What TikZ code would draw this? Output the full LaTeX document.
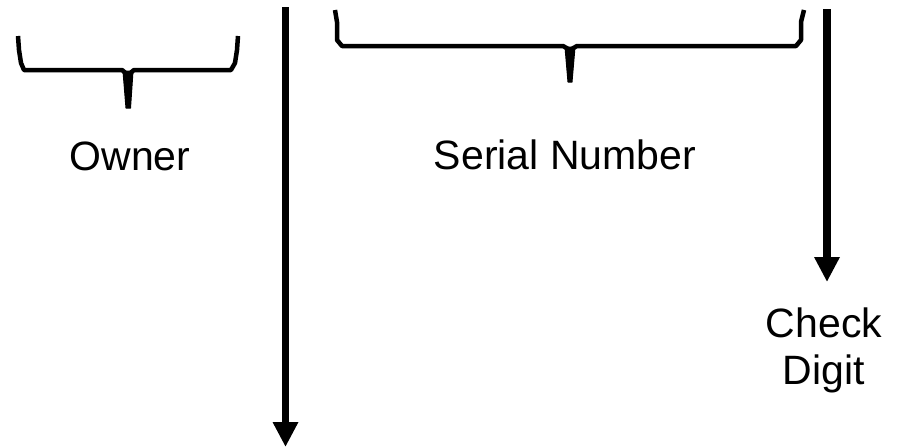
\documentclass[tikz,border=0pt]{standalone}
\usepackage{fontspec}
\setmainfont{Liberation Sans}
\usetikzlibrary{arrows.meta}
\tikzset{
  bracepath/.style={line width=4.5pt, line join=round, line cap=butt},
  bracestem/.style={fill=black, draw=black, line width=1pt, line join=round},
  bigarrow/.style={line width=7.5pt, -{Triangle[width=24pt,length=25pt]}},
  lbl/.style={font=\fontsize{41}{47}\selectfont, inner sep=0pt, align=center}
}
\begin{document}
\begin{tikzpicture}[x=1pt,y=-1pt]
\useasboundingbox (0,0) rectangle (906,447);
% Owner brace
\draw[bracepath] (18,36) -- (19,50) -- (21,63) -- (24,70) -- (122,70) -- (128,75) -- (134,70) -- (231,70) -- (235,63) -- (237,50) -- (238,36);
\filldraw[bracestem] (123,71) -- (133,71) -- (130.5,108) -- (126,108) -- cycle;
% Serial Number brace
\draw[bracepath] (335,10) -- (337,22) -- (337,40) -- (342,46) -- (563,46) -- (570,50) -- (577,46) -- (796,46) -- (801,40) -- (801,22) -- (804,10);
\filldraw[bracestem] (565,47) -- (575,47) -- (572,82) -- (568,82) -- cycle;
% Arrows
\coordinate (atop1) at (285.5,7);
\coordinate (abot1) at (285.5,447);
\coordinate (atop2) at (827,9);
\coordinate (abot2) at (827,282);
\draw[bigarrow] (atop1) -- (abot1);
\draw[bigarrow] (atop2) -- (abot2);
% Labels
\node[lbl, anchor=base] (owner) at (130,170) {Owner};
\node[lbl, anchor=base] (serial) at (565,169) {Serial Number};
\node[lbl] (check) at (824,350) {Check\\Digit};
\end{tikzpicture}
\end{document}
